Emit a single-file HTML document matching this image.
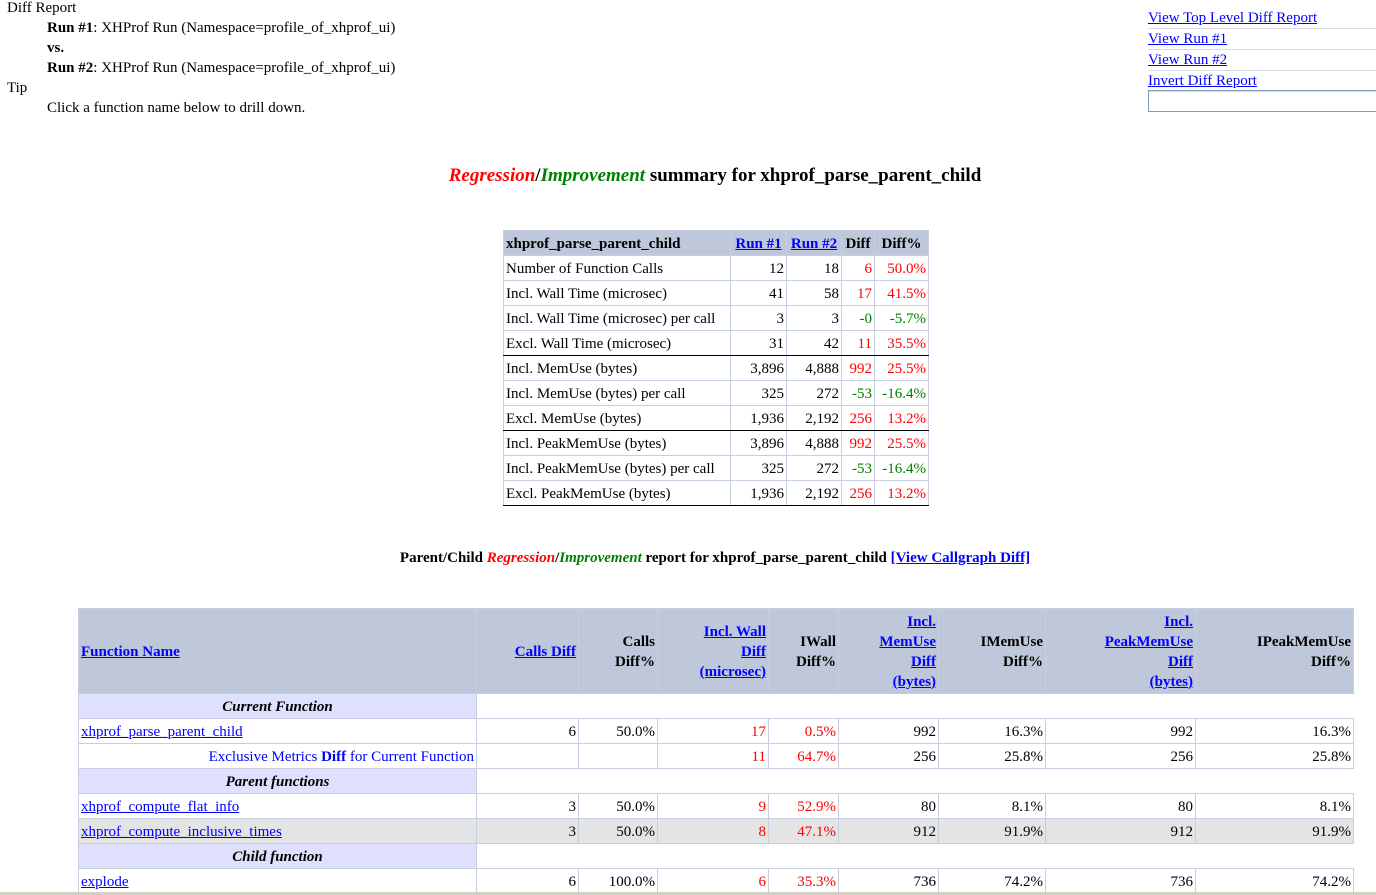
<!DOCTYPE html>
<html><head><meta charset="utf-8"><style>
body{margin:0;width:1376px;height:895px;overflow:hidden;background:#fff;font-family:"Liberation Serif",serif;font-size:15px;color:#000;position:relative}
.a{position:absolute;white-space:nowrap;line-height:20px}
a{color:#00f;text-decoration:underline}
.r{color:#f00}.g{color:#008000}
table{border-collapse:collapse;table-layout:fixed;position:absolute}
td,th{border:1px solid #c6cfe0;padding:1px 2px 0 2px;height:23px;line-height:20px;white-space:nowrap;overflow:hidden}
th{background:#bec8da;font-weight:bold}
.n{text-align:right}
.tb{border-bottom:1px solid #000}
.sub{background:#dfe0fd;text-align:center;font-weight:bold;font-style:italic}
.gr td{background:#e4e4e4}
#nav{position:absolute;left:1148px;top:8px;width:228px}
#nav div{height:20px;line-height:20px;border-bottom:1px solid #d6dbe6}
</style></head><body>
<div class="a" style="left:7px;top:-2px">Diff Report</div>
<div class="a" style="left:47px;top:18px"><b>Run #1</b>: XHProf Run (Namespace=profile_of_xhprof_ui)</div>
<div class="a" style="left:47px;top:38px"><b>vs.</b></div>
<div class="a" style="left:47px;top:58px"><b>Run #2</b>: XHProf Run (Namespace=profile_of_xhprof_ui)</div>
<div class="a" style="left:7px;top:78px">Tip</div>
<div class="a" style="left:47px;top:98px">Click a function name below to drill down.</div>
<div id="nav"><div><a>View Top Level Diff Report</a></div><div><a>View Run #1</a></div><div><a>View Run #2</a></div><div><a>Invert Diff Report</a></div></div>
<div style="position:absolute;left:1148px;top:90px;width:228px;height:20px;border:1px solid #7f9db9;border-right:none"></div>
<div class="a" style="left:0;width:1430px;text-align:center;top:166px;font-size:19px;font-weight:bold"><i class="r">Regression</i>/<i class="g">Improvement</i> summary for xhprof_parse_parent_child</div>
<table style="left:503px;top:230px;width:425px">
<colgroup><col style="width:227px"><col style="width:56px"><col style="width:55px"><col style="width:33px"><col style="width:54px"></colgroup>
<tr><th style="text-align:left">xhprof_parse_parent_child</th><th><a>Run #1</a></th><th><a>Run #2</a></th><th>Diff</th><th>Diff%</th></tr>
<tr><td>Number of Function Calls</td><td class="n">12</td><td class="n">18</td><td class="n r">6</td><td class="n r">50.0%</td></tr>
<tr><td>Incl. Wall Time (microsec)</td><td class="n">41</td><td class="n">58</td><td class="n r">17</td><td class="n r">41.5%</td></tr>
<tr><td>Incl. Wall Time (microsec) per call</td><td class="n">3</td><td class="n">3</td><td class="n g">-0</td><td class="n g">-5.7%</td></tr>
<tr><td class="tb">Excl. Wall Time (microsec)</td><td class="n tb">31</td><td class="n tb">42</td><td class="n r tb">11</td><td class="n r tb">35.5%</td></tr>
<tr><td>Incl. MemUse (bytes)</td><td class="n">3,896</td><td class="n">4,888</td><td class="n r">992</td><td class="n r">25.5%</td></tr>
<tr><td>Incl. MemUse (bytes) per call</td><td class="n">325</td><td class="n">272</td><td class="n g">-53</td><td class="n g">-16.4%</td></tr>
<tr><td class="tb">Excl. MemUse (bytes)</td><td class="n tb">1,936</td><td class="n tb">2,192</td><td class="n r tb">256</td><td class="n r tb">13.2%</td></tr>
<tr><td>Incl. PeakMemUse (bytes)</td><td class="n">3,896</td><td class="n">4,888</td><td class="n r">992</td><td class="n r">25.5%</td></tr>
<tr><td>Incl. PeakMemUse (bytes) per call</td><td class="n">325</td><td class="n">272</td><td class="n g">-53</td><td class="n g">-16.4%</td></tr>
<tr><td class="tb">Excl. PeakMemUse (bytes)</td><td class="n tb">1,936</td><td class="n tb">2,192</td><td class="n r tb">256</td><td class="n r tb">13.2%</td></tr>
</table>
<div class="a" style="left:0;width:1430px;text-align:center;top:548px;font-weight:bold">Parent/Child <i class="r">Regression</i>/<i class="g">Improvement</i> report for xhprof_parse_parent_child <a>[View Callgraph Diff]</a></div>
<table style="left:78px;top:608px;width:1275px">
<colgroup><col style="width:398px"><col style="width:102px"><col style="width:79px"><col style="width:111px"><col style="width:70px"><col style="width:100px"><col style="width:107px"><col style="width:150px"><col style="width:158px"></colgroup>
<tr style="height:85px"><th style="text-align:left"><a>Function Name</a></th><th class="n"><a>Calls Diff</a></th><th class="n">Calls<br>Diff%</th><th class="n"><a>Incl. Wall<br>Diff<br>(microsec)</a></th><th class="n">IWall<br>Diff%</th><th class="n"><a>Incl.<br>MemUse<br>Diff<br>(bytes)</a></th><th class="n">IMemUse<br>Diff%</th><th class="n"><a>Incl.<br>PeakMemUse<br>Diff<br>(bytes)</a></th><th class="n">IPeakMemUse<br>Diff%</th></tr>
<tr><td class="sub">Current Function</td><td colspan="8" style="border:none"></td></tr>
<tr><td><a>xhprof_parse_parent_child</a></td><td class="n">6</td><td class="n">50.0%</td><td class="n r">17</td><td class="n r">0.5%</td><td class="n">992</td><td class="n">16.3%</td><td class="n">992</td><td class="n">16.3%</td></tr>
<tr><td class="n" style="color:#00f">Exclusive Metrics <b>Diff</b> for Current Function</td><td></td><td></td><td class="n r">11</td><td class="n r">64.7%</td><td class="n">256</td><td class="n">25.8%</td><td class="n">256</td><td class="n">25.8%</td></tr>
<tr><td class="sub">Parent functions</td><td colspan="8" style="border:none"></td></tr>
<tr><td><a>xhprof_compute_flat_info</a></td><td class="n">3</td><td class="n">50.0%</td><td class="n r">9</td><td class="n r">52.9%</td><td class="n">80</td><td class="n">8.1%</td><td class="n">80</td><td class="n">8.1%</td></tr>
<tr class="gr"><td><a>xhprof_compute_inclusive_times</a></td><td class="n">3</td><td class="n">50.0%</td><td class="n r">8</td><td class="n r">47.1%</td><td class="n">912</td><td class="n">91.9%</td><td class="n">912</td><td class="n">91.9%</td></tr>
<tr><td class="sub">Child function</td><td colspan="8" style="border:none"></td></tr>
<tr><td><a>explode</a></td><td class="n">6</td><td class="n">100.0%</td><td class="n r">6</td><td class="n r">35.3%</td><td class="n">736</td><td class="n">74.2%</td><td class="n">736</td><td class="n">74.2%</td></tr>
</table>
<div style="position:absolute;left:0;top:892px;width:1376px;height:3px;background:#d4d0c8"></div>
</body></html>
